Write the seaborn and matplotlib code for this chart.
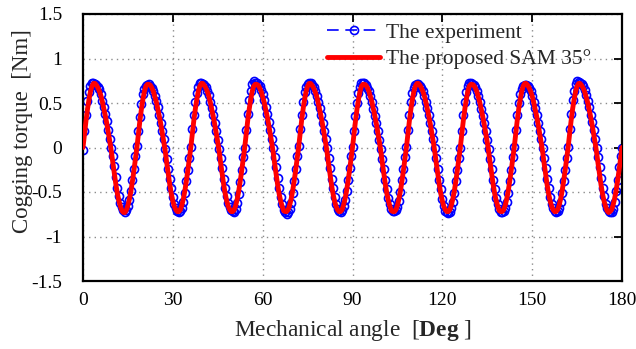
import numpy as np
import pandas as pd
import matplotlib
matplotlib.use("Agg")
import matplotlib.pyplot as plt
import seaborn as sns

# ---------------- data ----------------
step_deg = 0.5  # sampling step of both series [deg]

# Experiment, one row per 18-degree cogging period (36 samples each), plus the end point at 180 deg
exp_p1 = [-0.03, 0.19, 0.36, 0.52, 0.62, 0.69, 0.72, 0.72, 0.71, 0.70, 0.68, 0.66, 0.60, 0.52, 0.45, 0.38, 0.30, 0.20, 0.10, 0.00, -0.10, -0.21, -0.33, -0.45, -0.55, -0.62, -0.67, -0.70, -0.72, -0.70, -0.66, -0.59, -0.49, -0.37, -0.24, -0.10]
exp_p2 = [0.02, 0.18, 0.34, 0.49, 0.60, 0.66, 0.69, 0.70, 0.71, 0.69, 0.67, 0.63, 0.58, 0.52, 0.45, 0.36, 0.28, 0.19, 0.09, -0.02, -0.13, -0.24, -0.35, -0.46, -0.56, -0.63, -0.68, -0.71, -0.72, -0.71, -0.68, -0.61, -0.51, -0.38, -0.25, -0.12]
exp_p3 = [0.01, 0.21, 0.37, 0.51, 0.61, 0.68, 0.72, 0.73, 0.71, 0.70, 0.68, 0.64, 0.59, 0.51, 0.44, 0.36, 0.27, 0.18, 0.08, -0.02, -0.12, -0.23, -0.35, -0.46, -0.55, -0.62, -0.67, -0.70, -0.71, -0.72, -0.69, -0.62, -0.52, -0.39, -0.25, -0.11]
exp_p4 = [0.00, 0.20, 0.38, 0.53, 0.64, 0.71, 0.75, 0.73, 0.72, 0.70, 0.69, 0.65, 0.60, 0.53, 0.46, 0.38, 0.29, 0.20, 0.10, 0.00, -0.11, -0.22, -0.34, -0.46, -0.56, -0.64, -0.70, -0.73, -0.75, -0.73, -0.69, -0.62, -0.51, -0.38, -0.24, -0.10]
exp_p5 = [0.02, 0.21, 0.37, 0.51, 0.62, 0.68, 0.71, 0.72, 0.72, 0.70, 0.68, 0.64, 0.58, 0.51, 0.44, 0.36, 0.28, 0.19, 0.09, -0.01, -0.12, -0.23, -0.35, -0.46, -0.56, -0.63, -0.69, -0.71, -0.72, -0.70, -0.66, -0.59, -0.49, -0.36, -0.23, -0.10]
exp_p6 = [0.01, 0.19, 0.35, 0.50, 0.61, 0.68, 0.72, 0.73, 0.72, 0.70, 0.67, 0.63, 0.58, 0.51, 0.43, 0.35, 0.27, 0.18, 0.08, -0.02, -0.13, -0.24, -0.36, -0.47, -0.57, -0.64, -0.69, -0.71, -0.71, -0.70, -0.67, -0.60, -0.50, -0.37, -0.24, -0.11]
exp_p7 = [0.01, 0.20, 0.36, 0.51, 0.61, 0.67, 0.70, 0.71, 0.71, 0.69, 0.67, 0.63, 0.58, 0.51, 0.44, 0.36, 0.28, 0.19, 0.09, -0.01, -0.12, -0.24, -0.36, -0.47, -0.58, -0.66, -0.71, -0.73, -0.74, -0.72, -0.68, -0.61, -0.51, -0.38, -0.25, -0.12]
exp_p8 = [0.00, 0.19, 0.36, 0.51, 0.62, 0.69, 0.72, 0.72, 0.71, 0.70, 0.68, 0.64, 0.58, 0.51, 0.43, 0.35, 0.27, 0.18, 0.08, -0.02, -0.13, -0.24, -0.36, -0.47, -0.57, -0.64, -0.69, -0.72, -0.73, -0.71, -0.68, -0.61, -0.51, -0.38, -0.25, -0.11]
exp_p9 = [0.01, 0.20, 0.36, 0.50, 0.60, 0.66, 0.69, 0.70, 0.70, 0.69, 0.67, 0.63, 0.58, 0.51, 0.44, 0.36, 0.28, 0.19, 0.09, -0.01, -0.12, -0.23, -0.35, -0.46, -0.56, -0.63, -0.68, -0.71, -0.72, -0.71, -0.68, -0.61, -0.51, -0.38, -0.25, -0.12]
exp_p10 = [0.01, 0.21, 0.38, 0.53, 0.64, 0.71, 0.75, 0.74, 0.72, 0.71, 0.69, 0.65, 0.59, 0.52, 0.45, 0.37, 0.29, 0.20, 0.10, 0.00, -0.11, -0.22, -0.34, -0.45, -0.55, -0.63, -0.68, -0.71, -0.72, -0.72, -0.69, -0.61, -0.49, -0.36, -0.22, -0.09]
exp_end = [0.00]

# Proposed SAM 35 deg model, same sampling
sam_p1 = [0.00, 0.15, 0.30, 0.43, 0.54, 0.63, 0.69, 0.72, 0.72, 0.70, 0.67, 0.63, 0.58, 0.51, 0.43, 0.35, 0.26, 0.16, 0.06, -0.05, -0.18, -0.30, -0.42, -0.52, -0.60, -0.66, -0.71, -0.73, -0.73, -0.70, -0.65, -0.58, -0.49, -0.38, -0.26, -0.13]
sam_p2 = [0.00, 0.15, 0.30, 0.43, 0.54, 0.63, 0.69, 0.71, 0.71, 0.70, 0.67, 0.63, 0.57, 0.51, 0.43, 0.35, 0.26, 0.16, 0.06, -0.05, -0.18, -0.30, -0.42, -0.52, -0.60, -0.66, -0.70, -0.72, -0.72, -0.70, -0.65, -0.58, -0.49, -0.38, -0.26, -0.13]
sam_p3 = [0.00, 0.15, 0.30, 0.43, 0.54, 0.63, 0.69, 0.72, 0.72, 0.70, 0.67, 0.63, 0.58, 0.51, 0.43, 0.35, 0.26, 0.16, 0.06, -0.05, -0.18, -0.30, -0.42, -0.52, -0.60, -0.66, -0.70, -0.72, -0.72, -0.70, -0.65, -0.58, -0.49, -0.38, -0.26, -0.13]
sam_p4 = [0.00, 0.15, 0.30, 0.43, 0.54, 0.63, 0.69, 0.71, 0.71, 0.70, 0.67, 0.63, 0.57, 0.51, 0.43, 0.35, 0.26, 0.16, 0.06, -0.05, -0.18, -0.30, -0.42, -0.52, -0.60, -0.66, -0.71, -0.72, -0.72, -0.70, -0.65, -0.58, -0.49, -0.38, -0.26, -0.13]
sam_p5 = [0.00, 0.15, 0.30, 0.43, 0.54, 0.63, 0.69, 0.72, 0.72, 0.70, 0.67, 0.63, 0.58, 0.51, 0.43, 0.35, 0.26, 0.16, 0.06, -0.05, -0.18, -0.30, -0.42, -0.52, -0.60, -0.66, -0.70, -0.72, -0.72, -0.70, -0.65, -0.58, -0.49, -0.38, -0.26, -0.13]
sam_p6 = [0.00, 0.15, 0.30, 0.43, 0.54, 0.63, 0.69, 0.71, 0.71, 0.70, 0.67, 0.63, 0.57, 0.51, 0.43, 0.35, 0.26, 0.16, 0.06, -0.05, -0.18, -0.30, -0.42, -0.52, -0.60, -0.66, -0.71, -0.72, -0.72, -0.70, -0.65, -0.58, -0.49, -0.38, -0.26, -0.13]
sam_p7 = [0.00, 0.15, 0.30, 0.43, 0.54, 0.63, 0.69, 0.72, 0.72, 0.70, 0.67, 0.63, 0.58, 0.51, 0.43, 0.35, 0.26, 0.16, 0.06, -0.05, -0.18, -0.30, -0.42, -0.52, -0.60, -0.66, -0.70, -0.72, -0.72, -0.70, -0.65, -0.58, -0.49, -0.38, -0.26, -0.13]
sam_p8 = [0.00, 0.15, 0.30, 0.43, 0.54, 0.63, 0.69, 0.71, 0.71, 0.70, 0.67, 0.63, 0.57, 0.51, 0.43, 0.35, 0.26, 0.16, 0.06, -0.05, -0.18, -0.30, -0.42, -0.52, -0.60, -0.66, -0.71, -0.72, -0.72, -0.70, -0.65, -0.58, -0.49, -0.38, -0.26, -0.13]
sam_p9 = [0.00, 0.15, 0.30, 0.43, 0.54, 0.63, 0.69, 0.72, 0.72, 0.70, 0.67, 0.63, 0.58, 0.51, 0.43, 0.35, 0.26, 0.16, 0.06, -0.05, -0.18, -0.30, -0.42, -0.52, -0.60, -0.66, -0.70, -0.72, -0.72, -0.70, -0.65, -0.58, -0.49, -0.38, -0.26, -0.13]
sam_p10 = [0.00, 0.15, 0.30, 0.43, 0.54, 0.63, 0.69, 0.72, 0.72, 0.70, 0.67, 0.63, 0.57, 0.51, 0.43, 0.35, 0.26, 0.16, 0.06, -0.05, -0.18, -0.30, -0.42, -0.52, -0.60, -0.66, -0.71, -0.73, -0.72, -0.70, -0.65, -0.58, -0.49, -0.38, -0.26, -0.13]
sam_end = [0.00]

x_ticks = [0, 30, 60, 90, 120, 150, 180]
y_ticks = [-1.5, -1, -0.5, 0, 0.5, 1, 1.5]
y_tick_labels = ["-1.5", "-1", "-0.5", "0", "0.5", "1", "1.5"]
series_names = ["The experiment", "The proposed SAM 35°"]

experiment = (exp_p1 + exp_p2 + exp_p3 + exp_p4 + exp_p5 + exp_p6 + exp_p7
              + exp_p8 + exp_p9 + exp_p10 + exp_end)
sam = (sam_p1 + sam_p2 + sam_p3 + sam_p4 + sam_p5 + sam_p6 + sam_p7
       + sam_p8 + sam_p9 + sam_p10 + sam_end)
angle = np.arange(len(experiment)) * step_deg

df = pd.DataFrame({"angle": angle, "exp": experiment, "sam": sam})

# ---------------- style ----------------
sns.set_style("white")
plt.rcParams["font.family"] = ["Liberation Serif", "DejaVu Serif"]
plt.rcParams["mathtext.fontset"] = "custom"
plt.rcParams["mathtext.rm"] = "Liberation Serif"
plt.rcParams["mathtext.bf"] = "Liberation Serif:bold"
plt.rcParams["axes.unicode_minus"] = False

fig = plt.figure(figsize=(6.36, 3.49), dpi=100)
ax = fig.add_axes([83 / 636, 1 - 281 / 349, (622 - 83) / 636, (281 - 14) / 349])

sns.lineplot(data=df, x="angle", y="exp", ax=ax, color="blue",
             linestyle=(0, (7, 4)), linewidth=1.2, marker="o", markersize=5.8,
             markerfacecolor="none", markeredgecolor="blue", markeredgewidth=1.2,
             label=series_names[0], zorder=2)
sns.lineplot(data=df, x="angle", y="sam", ax=ax, color="red", linewidth=3.5,
             label=series_names[1], zorder=3)

ax.set_xlim(0, 180)
ax.set_ylim(-1.5, 1.5)
ax.set_xticks(x_ticks)
ax.set_xticklabels([str(v) for v in x_ticks])
ax.set_yticks(y_ticks)
ax.set_yticklabels(y_tick_labels)
ax.grid(True, linestyle=(0, (1, 3)), color="#8c8c8c", linewidth=1.0)
ax.set_axisbelow(True)

ax.tick_params(direction="in", length=6, width=1.3, top=True, right=True,
               labelsize=14, colors="black")
ax.tick_params(axis="x", pad=8)
ax.tick_params(axis="y", pad=15)
for s in ax.spines.values():
    s.set_visible(True)
    s.set_color("black")
    s.set_linewidth(1.6)

ax.set_xlabel("Mechanical angle  [$\\mathbf{Deg}$ ]", fontsize=16.8)
ax.set_ylabel("Cogging torque  [Nm]", fontsize=16.5)
ax.xaxis.set_label_coords(0.5, -0.14)
ax.yaxis.set_label_coords(-0.093, 0.56)

leg = ax.legend(loc="upper left", bbox_to_anchor=(0.452, 0.968), frameon=False,
                fontsize=15.5, handlelength=2.5, handletextpad=0.25,
                labelspacing=0.3, borderpad=0, borderaxespad=0, numpoints=1)

fig.savefig("out.png", dpi=100)
